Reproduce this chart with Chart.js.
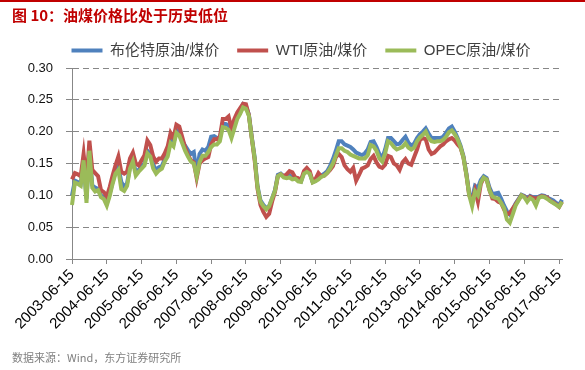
<!DOCTYPE html>
<html>
<head>
<meta charset="utf-8">
<script src="https://cdn.jsdelivr.net/npm/chart.js@4.4.1/dist/chart.umd.min.js"></script>
<style>
  body { margin: 0; background: #fff; }
  #wrap { position: relative; width: 585px; height: 370px; overflow: hidden; }
  #topbar { position: absolute; left: 0; top: 0; width: 585px; height: 2px; background: #c00000; }
  #title { position: absolute; left: 12px; top: 4px; font: bold 15px "Noto Sans CJK SC", sans-serif; color: #c00000; }
  #source { position: absolute; left: 12px; top: 349px; font: 11px "Noto Sans CJK SC", sans-serif; color: #7f7f7f; }
  canvas { position: absolute; left: 0; top: 0; }
</style>
</head>
<body>
<div id="wrap">
  <canvas id="chart" width="585" height="370"></canvas>
  <div id="topbar"></div>
  <div id="title">图 10：油煤价格比处于历史低位</div>
  <div id="source">数据来源：Wind，东方证券研究所</div>
</div>
<script>
// monthly points, 2003-06 .. 2017-07
const startYear = 2003, startMonth = 6, pointCount = 170;
const months = [];
for (let k = 0; k < pointCount; k++) {
  const m = startMonth - 1 + k;
  const y = startYear + Math.floor(m / 12);
  months.push(y + "-" + String((m % 12) + 1).padStart(2, "0"));
}

const seriesNames = ["布伦特原油/煤价", "WTI原油/煤价", "OPEC原油/煤价"];

const brent = [
  0.100,0.123,0.121,0.118,0.152,0.095,0.172,0.116,0.112,0.110,
  0.100,0.097,0.087,0.102,0.121,0.137,0.145,0.121,0.113,0.119,
  0.145,0.156,0.136,0.140,0.146,0.150,0.170,0.165,0.148,0.140,
  0.144,0.146,0.157,0.166,0.187,0.181,0.203,0.199,0.186,0.178,
  0.171,0.165,0.168,0.135,0.165,0.172,0.170,0.176,0.192,0.193,
  0.190,0.190,0.212,0.212,0.210,0.195,0.210,0.224,0.232,0.243,
  0.240,0.227,0.192,0.160,0.114,0.092,0.085,0.080,0.083,0.095,
  0.108,0.132,0.134,0.130,0.129,0.131,0.128,0.127,0.124,0.122,
  0.136,0.139,0.135,0.121,0.123,0.127,0.131,0.134,0.138,0.146,
  0.157,0.170,0.185,0.185,0.180,0.178,0.176,0.172,0.167,0.165,
  0.163,0.166,0.172,0.184,0.185,0.176,0.165,0.158,0.172,0.190,
  0.190,0.185,0.180,0.181,0.187,0.192,0.183,0.178,0.181,0.190,
  0.196,0.200,0.205,0.197,0.190,0.190,0.190,0.190,0.192,0.198,
  0.205,0.208,0.200,0.190,0.178,0.162,0.135,0.103,0.095,0.115,
  0.112,0.124,0.130,0.127,0.112,0.102,0.103,0.104,0.095,0.084,
  0.075,0.070,0.078,0.087,0.094,0.101,0.099,0.094,0.099,0.097,
  0.097,0.098,0.100,0.099,0.096,0.094,0.092,0.088,0.085,0.093
];

const wti = [
  0.125,0.135,0.133,0.130,0.165,0.120,0.186,0.140,0.135,0.130,
  0.108,0.105,0.098,0.113,0.131,0.147,0.161,0.137,0.134,0.137,
  0.158,0.167,0.150,0.147,0.155,0.163,0.186,0.179,0.161,0.153,
  0.158,0.158,0.166,0.177,0.198,0.190,0.211,0.208,0.192,0.175,
  0.163,0.155,0.152,0.127,0.150,0.155,0.158,0.160,0.180,0.188,
  0.188,0.192,0.220,0.220,0.224,0.205,0.220,0.230,0.237,0.244,
  0.243,0.226,0.190,0.155,0.110,0.085,0.074,0.066,0.071,0.090,
  0.105,0.130,0.133,0.130,0.133,0.138,0.136,0.128,0.127,0.124,
  0.138,0.143,0.138,0.122,0.126,0.135,0.130,0.131,0.135,0.140,
  0.146,0.160,0.165,0.160,0.147,0.141,0.137,0.143,0.123,0.132,
  0.142,0.144,0.147,0.157,0.162,0.152,0.145,0.143,0.148,0.162,
  0.160,0.150,0.147,0.140,0.152,0.157,0.150,0.148,0.160,0.172,
  0.187,0.190,0.188,0.172,0.165,0.167,0.172,0.177,0.180,0.185,
  0.188,0.190,0.186,0.180,0.175,0.160,0.133,0.100,0.092,0.108,
  0.090,0.118,0.127,0.125,0.108,0.095,0.094,0.090,0.088,0.078,
  0.070,0.072,0.079,0.086,0.093,0.100,0.098,0.092,0.098,0.096,
  0.095,0.097,0.099,0.098,0.096,0.091,0.089,0.086,0.082,0.090
];

const opec = [
  0.085,0.120,0.118,0.115,0.155,0.088,0.170,0.112,0.106,0.108,
  0.097,0.094,0.084,0.099,0.118,0.134,0.140,0.110,0.107,0.115,
  0.142,0.153,0.131,0.137,0.142,0.147,0.166,0.161,0.142,0.134,
  0.139,0.142,0.153,0.161,0.182,0.177,0.198,0.194,0.182,0.170,
  0.161,0.153,0.150,0.130,0.152,0.162,0.162,0.168,0.176,0.180,
  0.180,0.185,0.207,0.206,0.203,0.190,0.205,0.220,0.228,0.238,
  0.236,0.225,0.190,0.158,0.112,0.090,0.083,0.078,0.083,0.095,
  0.107,0.130,0.133,0.128,0.127,0.128,0.125,0.126,0.122,0.121,
  0.134,0.137,0.134,0.120,0.122,0.125,0.129,0.131,0.135,0.142,
  0.150,0.162,0.174,0.174,0.170,0.168,0.164,0.162,0.160,0.158,
  0.158,0.158,0.163,0.179,0.177,0.170,0.158,0.153,0.166,0.185,
  0.182,0.176,0.172,0.174,0.176,0.182,0.175,0.172,0.175,0.185,
  0.191,0.195,0.200,0.190,0.185,0.184,0.185,0.185,0.187,0.192,
  0.199,0.202,0.196,0.188,0.176,0.160,0.133,0.100,0.083,0.106,
  0.100,0.120,0.128,0.125,0.108,0.098,0.096,0.095,0.088,0.080,
  0.062,0.057,0.070,0.084,0.092,0.100,0.097,0.090,0.096,0.093,
  0.084,0.096,0.098,0.097,0.094,0.091,0.088,0.085,0.082,0.090
];

// tick labels shown under the axis (one per June)
const labelMonth = "06";
const labelDay = "-15";

const lineColors = ["#4f81bd", "#c0504d", "#9bbb59"];
const axisGray = "#878787";

function makeSet(i, data, order) {
  return {
    label: seriesNames[i],
    data: data,
    borderColor: lineColors[i],
    backgroundColor: lineColors[i],
    borderWidth: 4,
    pointRadius: 0,
    tension: 0,
    order: order,
  };
}

// nudge the legend right so it sits centred like the original
const legendShift = {
  id: "legendShift",
  afterLayout(chart) {
    chart.legend.left += 20;
    chart.legend.right += 20;
  },
};

const ctx = document.getElementById("chart");
new Chart(ctx, {
  type: "line",
  data: {
    labels: months,
    datasets: [makeSet(0, brent, 3), makeSet(1, wti, 2), makeSet(2, opec, 1)],
  },
  plugins: [legendShift],
  options: {
    responsive: false,
    animation: false,
    layout: { padding: { left: 0, right: 23, top: 25, bottom: 0 } },
    scales: {
      x: {
        offset: false,
        grid: {
          drawOnChartArea: false,
          drawTicks: true,
          tickLength: 5,
          tickColor: (c) => (months[c.index] && months[c.index].slice(5) === labelMonth ? axisGray : "rgba(0,0,0,0)"),
        },
        border: { display: true, color: axisGray, width: 1 },
        ticks: {
          autoSkip: false,
          maxRotation: 45,
          minRotation: 45,
          padding: 2,
          color: "#000",
          font: { family: "'Liberation Sans', Arial, sans-serif", size: 15 },
          callback: function (value, index) {
            const m = months[index];
            return m.slice(5) === labelMonth ? m + labelDay : "";
          },
        },
        afterFit: (scale) => { scale.height = 111; },
      },
      y: {
        min: 0,
        max: 0.3,
        grid: {
          color: axisGray,
          lineWidth: 1,
          tickLength: 6,
          tickColor: axisGray,
        },
        border: { display: true, color: axisGray, width: 1, dash: [6, 4] },
        ticks: {
          stepSize: 0.05,
          padding: 13,
          color: "#111",
          font: { family: "'Liberation Sans', Arial, sans-serif", size: 13 },
          callback: (v) => v.toFixed(2),
        },
        afterFit: (scale) => { scale.width = 72; },
      },
    },
    plugins: {
      legend: {
        position: "top",
        maxHeight: 46,
        labels: {
          boxWidth: 31,
          boxHeight: 4,
          padding: 18,
          color: "#404040",
          font: { family: "'Liberation Sans', 'Noto Sans CJK SC', sans-serif", size: 15 },
          sort: (a, b) => a.datasetIndex - b.datasetIndex,
          generateLabels: (chart) =>
            Chart.defaults.plugins.legend.labels.generateLabels(chart).map((l) => ({
              ...l,
              lineWidth: 0,
              fillStyle: l.strokeStyle,
            })),
        },
      },
      tooltip: { enabled: false },
    },
  },
});
</script>
</body>
</html>
